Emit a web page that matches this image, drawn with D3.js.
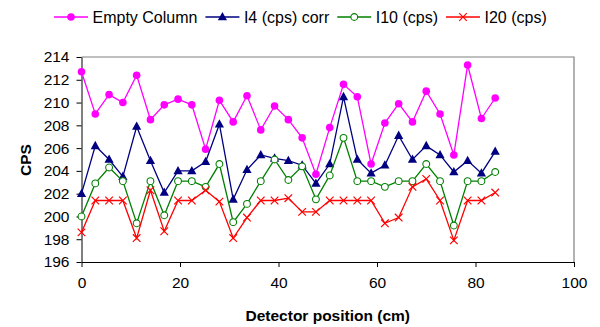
<!DOCTYPE html>
<html>
<head>
<meta charset="utf-8">
<script src="https://cdn.jsdelivr.net/npm/d3@7"></script>
<style>
  body { margin: 0; background: #fff; }
  svg { display: block; font-family: "Liberation Sans", Arial, sans-serif; }
  .axis text { font-size: 15.5px; fill: #000; }
  .axis path, .axis line { stroke: #000; stroke-width: 1; }
</style>
</head>
<body>
<div id="chart"></div>
<script>
// detector positions (cm)
const positions = [0, 2.8, 5.6, 8.4, 11.2, 14, 16.8, 19.6, 22.4, 25.2, 28, 30.8, 33.6, 36.4, 39.2, 42,
  44.8, 47.6, 50.4, 53.2, 56, 58.8, 61.6, 64.4, 67.2, 70, 72.8, 75.6, 78.4, 81.2, 84];

const emptyColumn = [212.7, 209.0, 210.7, 210.0, 212.4, 208.5, 209.8, 210.3, 209.8, 205.9, 210.2, 208.3,
  210.6, 207.6, 209.7, 208.5, 206.9, 203.7, 207.8, 211.6, 210.5, 204.6, 208.2, 209.9, 208.3, 211.0,
  209.0, 205.4, 213.3, 208.6, 210.4];
const i4corr = [202.0, 206.2, 205.0, 203.5, 207.9, 204.9, 202.1, 204.0, 204.0, 204.8, 208.1, 201.5,
  204.1, 205.4, 205.1, 204.9, 204.5, 202.9, 204.6, 210.5, 205.0, 203.8, 204.5, 207.1, 205.0, 206.2,
  205.4, 203.9, 204.9, 203.8, 205.7];
const i10 = [200.0, 202.9, 204.3, 203.1, 199.4, 203.1, 200.1, 203.1, 203.1, 202.6, 204.6, 199.5,
  201.1, 203.1, 205.0, 203.2, 204.4, 201.5, 203.6, 206.9, 203.1, 203.1, 202.6, 203.1, 203.1, 204.6,
  203.1, 199.2, 203.1, 203.1, 203.9];
const i20 = [198.6, 201.4, 201.4, 201.4, 198.1, 202.3, 198.7, 201.4, 201.4, 202.3, 201.3, 198.1,
  199.9, 201.4, 201.4, 201.6, 200.4, 200.4, 201.4, 201.4, 201.4, 201.4, 199.4, 199.9, 202.6, 203.3,
  201.4, 197.9, 201.4, 201.4, 202.1];

const seriesNames = ['Empty Column', 'I4 (cps) corr', 'I10 (cps)', 'I20 (cps)'];
const xTicks = [0, 20, 40, 60, 80, 100];
const yTicks = [196, 198, 200, 202, 204, 206, 208, 210, 212, 214];

const series = [
  { name: seriesNames[0], values: emptyColumn, color: '#ff00ff', marker: 'dot' },
  { name: seriesNames[1], values: i4corr, color: '#000080', marker: 'triangle' },
  { name: seriesNames[2], values: i10, color: '#008000', marker: 'ring' },
  { name: seriesNames[3], values: i20, color: '#ff0000', marker: 'cross' }
];

const width = 600, height = 327;
const margin = { left: 81.5, right: 26, top: 57, bottom: 65 };

const svg = d3.select('#chart').append('svg')
  .attr('width', width)
  .attr('height', height);

const x = d3.scaleLinear().domain([0, 100]).range([margin.left, width - margin.right]);
const y = d3.scaleLinear().domain([196, 214]).range([height - margin.bottom, margin.top]);

// plot area frame (grey top / right)
svg.append('path')
  .attr('d', `M${x(0)},${y(214)}H${x(100)}V${y(196)}`)
  .attr('fill', 'none')
  .attr('stroke', '#808080')
  .attr('stroke-width', 1.2);

svg.append('g')
  .attr('class', 'axis')
  .attr('transform', `translate(0, ${y(196)})`)
  .call(d3.axisBottom(x).tickValues(xTicks).tickSize(5).tickSizeOuter(0).tickPadding(10));

svg.append('g')
  .attr('class', 'axis')
  .attr('transform', `translate(${x(0)}, 0)`)
  .call(d3.axisLeft(y).tickValues(yTicks).tickSize(5).tickSizeOuter(0).tickPadding(7));

svg.selectAll('.axis .domain').attr('stroke-width', 1.2);

// axis titles
svg.append('text')
  .attr('x', (x(0) + x(100)) / 2)
  .attr('y', 321)
  .attr('text-anchor', 'middle')
  .style('font-size', '15.5px')
  .style('font-weight', 'bold')
  .text('Detector position (cm)');

svg.append('text')
  .attr('transform', 'translate(31, 160) rotate(-90)')
  .attr('text-anchor', 'middle')
  .style('font-size', '15.5px')
  .style('font-weight', 'bold')
  .text('CPS');

function drawMarker(g, type, color) {
  if (type === 'dot') {
    g.append('circle').attr('r', 3.8).attr('fill', color);
  } else if (type === 'triangle') {
    g.append('path').attr('d', 'M0,-5L4.6,3.3L-4.6,3.3Z').attr('fill', color);
  } else if (type === 'ring') {
    g.append('circle').attr('r', 3.4).attr('fill', '#fff').attr('stroke', color).attr('stroke-width', 1.1);
  } else {
    g.append('path').attr('d', 'M-3.8,-3.8L3.8,3.8M-3.8,3.8L3.8,-3.8')
      .attr('stroke', color).attr('stroke-width', 1.2);
  }
}

const line = d3.line()
  .x((d, i) => x(positions[i]))
  .y(d => y(d));

series.forEach(s => {
  const g = svg.append('g');
  g.append('path')
    .datum(s.values)
    .attr('d', line)
    .attr('fill', 'none')
    .attr('stroke', s.color)
    .attr('stroke-width', 1.3);
  s.values.forEach((v, i) => {
    const m = g.append('g').attr('transform', `translate(${x(positions[i])}, ${y(v)})`);
    drawMarker(m, s.marker, s.color);
  });
});

// legend
const legend = svg.append('g').attr('transform', 'translate(54, 17)');
let lx = 0;
series.forEach(s => {
  const item = legend.append('g').attr('transform', `translate(${lx}, 0)`);
  item.append('line')
    .attr('x1', 0).attr('x2', 34)
    .attr('stroke', s.color).attr('stroke-width', 1.3);
  drawMarker(item.append('g').attr('transform', 'translate(17, 0)'), s.marker, s.color);
  const t = item.append('text')
    .attr('x', 38.5)
    .attr('y', 5.7)
    .style('font-size', '16px')
    .text(s.name);
  lx += 38.5 + t.node().getComputedTextLength() + 8;
});
</script>
</body>
</html>
